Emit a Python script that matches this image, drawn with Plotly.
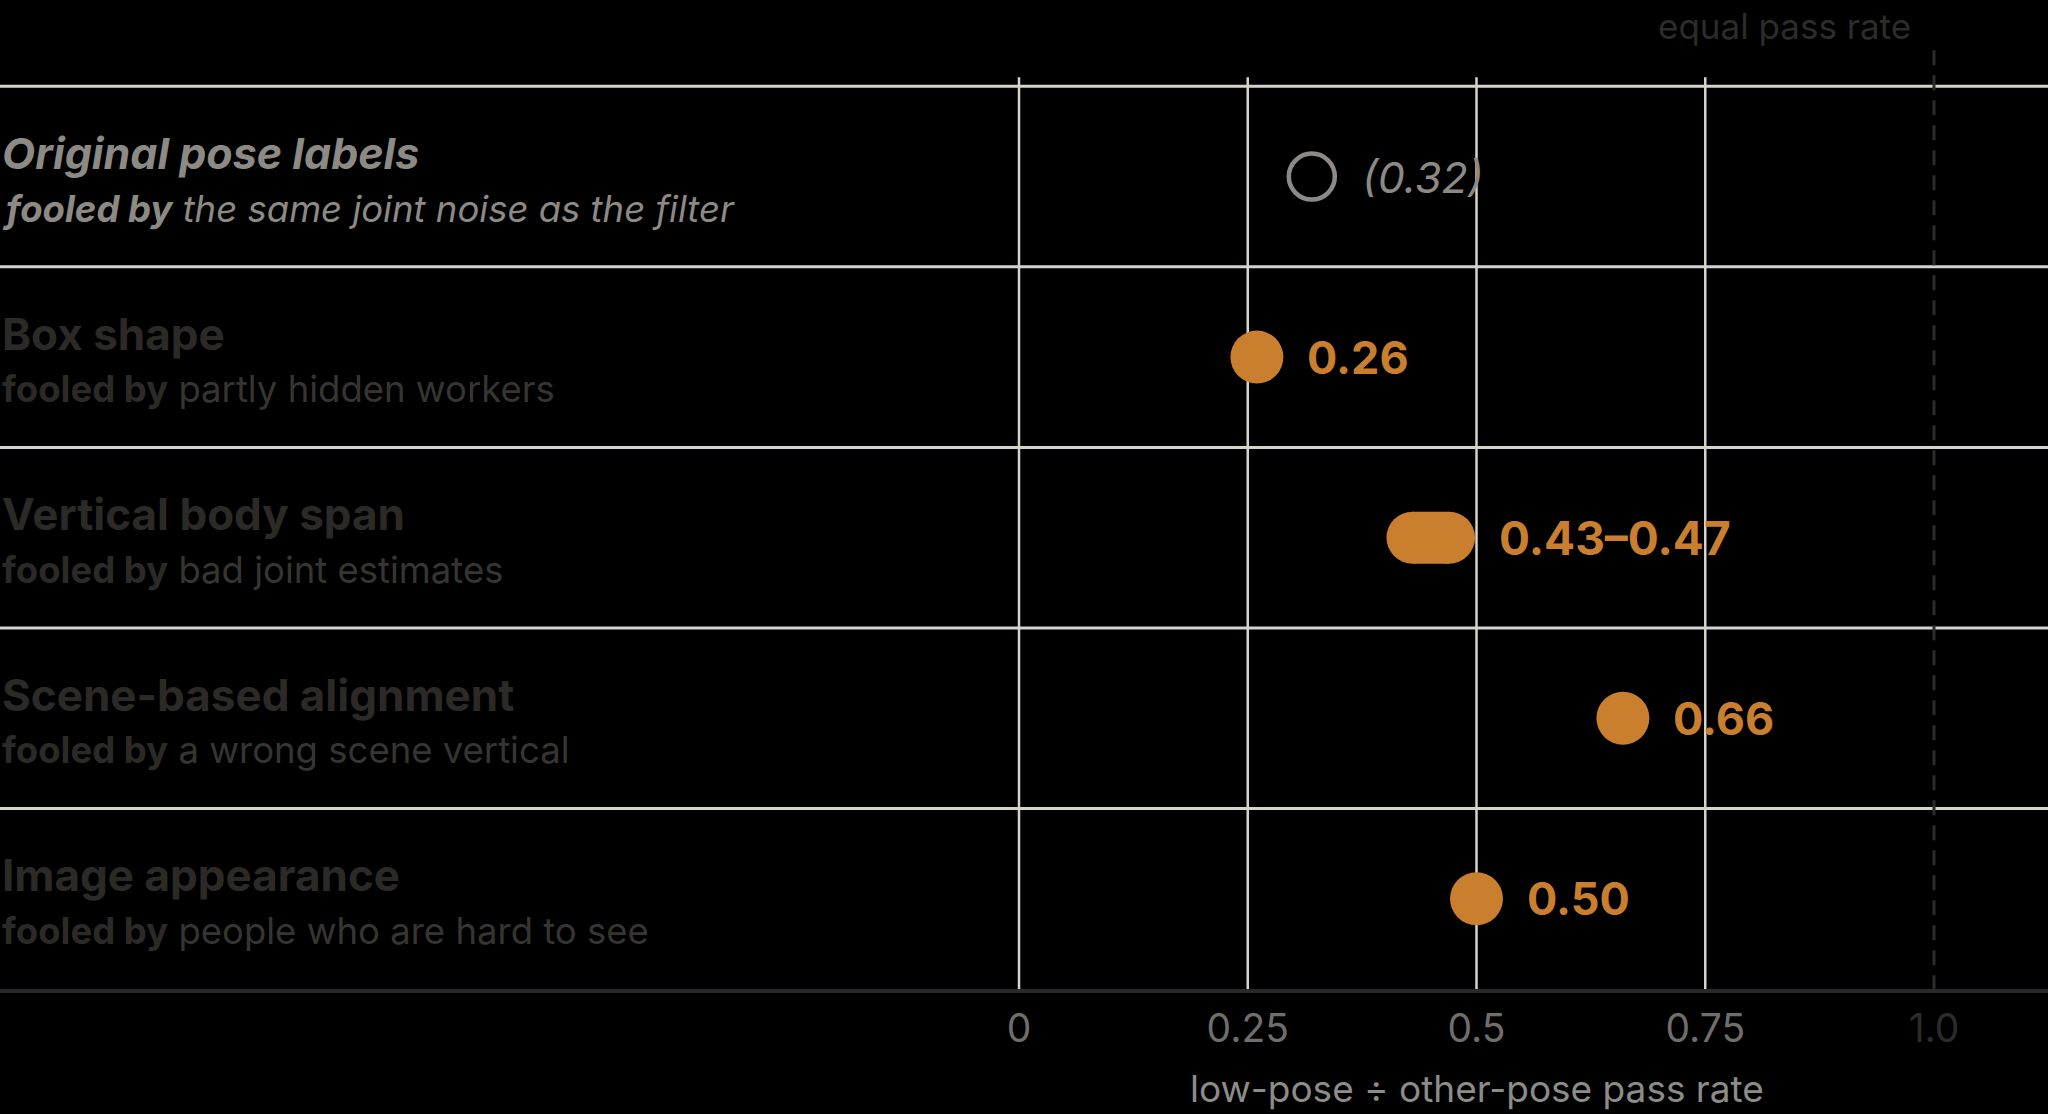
import plotly.graph_objects as go

# data
methods = ["Original pose labels", "Box shape", "Vertical body span",
           "Scene-based alignment", "Image appearance"]
fooled_by = ["the same joint noise as the filter", "partly hidden workers",
             "bad joint estimates", "a wrong scene vertical",
             "people who are hard to see"]
ratio_low = [0.32, 0.26, 0.43, 0.66, 0.50]
ratio_high = [0.32, 0.26, 0.47, 0.66, 0.50]
value_labels = ["(0.32)", "0.26", "0.43\u20130.47", "0.66", "0.50"]
is_baseline = [True, False, False, False, False]

tick_vals = [0, 0.25, 0.5, 0.75, 1.0]
tick_text = ["0", "0.25", "0.5", "0.75",
             "<span style='color:#2c2c2a'>1.0</span>"]

FONT = "Inter, Liberation Sans, sans-serif"
ORANGE = "#c97f2e"
GREY = "#8d8a85"
DARK = "#2b2a26"
DARK2 = "#363531"
RULE = "#d6d3cb"

rows = list(range(len(methods)))

fig = go.Figure()

# row separators
for i in rows:
    fig.add_shape(type="line", xref="paper", x0=0, x1=1, yref="y",
                  y0=i - 0.5, y1=i - 0.5, line=dict(color=RULE, width=3),
                  layer="below")

# vertical grid lines (not the 1.0 one, that is dashed)
for v in tick_vals[:-1]:
    fig.add_shape(type="line", x0=v, x1=v, y0=-0.55, y1=len(rows) - 0.5,
                  line=dict(color=RULE, width=2.5), layer="below")

fig.add_shape(type="line", x0=1.0, x1=1.0, y0=-0.70, y1=len(rows) - 0.5,
              line=dict(color="#2c2c2a", width=3, dash="15px,10px"),
              layer="below")

for i in rows:
    lo, hi = ratio_low[i], ratio_high[i]
    if is_baseline[i]:
        fig.add_trace(go.Scatter(
            x=[lo], y=[i], mode="markers",
            marker=dict(size=46, color="rgba(0,0,0,0)",
                        line=dict(color=GREY, width=4.5)),
            hoverinfo="skip", showlegend=False))
        lab_font = dict(family=FONT, size=43, color=GREY)
        txt = "<i>" + value_labels[i] + "</i>"
    elif lo != hi:
        fig.add_trace(go.Scatter(
            x=[lo, hi], y=[i, i], mode="lines+markers",
            line=dict(color=ORANGE, width=52),
            marker=dict(size=52, color=ORANGE, line=dict(width=0)),
            hoverinfo="skip", showlegend=False))
        lab_font = dict(family=FONT, size=46, color=ORANGE)
        txt = "<b>" + value_labels[i] + "</b>"
    else:
        fig.add_trace(go.Scatter(
            x=[lo], y=[i], mode="markers",
            marker=dict(size=53, color=ORANGE, line=dict(width=0)),
            hoverinfo="skip", showlegend=False))
        lab_font = dict(family=FONT, size=45, color=ORANGE)
        txt = "<b>" + value_labels[i] + "</b>"
    fig.add_annotation(x=hi, y=i, text=txt, showarrow=False, xanchor="left",
                       yanchor="middle", xshift=48, font=lab_font)

    # left labels
    if is_baseline[i]:
        title = "<b><i>" + methods[i] + "</i></b>"
        sub = "<i><b>fooled by</b> " + fooled_by[i] + "</i>"
        tcol, scol = GREY, GREY
        tsize = 43
    else:
        title = "<b>" + methods[i] + "</b>"
        sub = ("<b><span style='color:%s'>fooled by</span></b> " % DARK
               + fooled_by[i])
        tcol, scol = DARK, DARK2
        tsize = 44
    fig.add_annotation(xref="paper", x=0, y=i - 0.13, text=title,
                       showarrow=False, xanchor="left", yanchor="middle",
                       font=dict(family=FONT, size=tsize, color=tcol))
    fig.add_annotation(xref="paper", x=0, y=i + 0.178, text=sub,
                       showarrow=False, xanchor="left", yanchor="middle",
                       font=dict(family=FONT, size=36.5, color=scol))

fig.add_annotation(x=1.0, y=-0.835, text="equal pass rate", showarrow=False,
                   xanchor="right", yanchor="middle", xshift=-21,
                   font=dict(family=FONT, size=35, color="#2c2c2a"))

fig.add_annotation(x=0.5, xref="x", yref="paper", y=-0.101,
                   text="low-pose \u00f7 other-pose pass rate",
                   showarrow=False, xanchor="center", yanchor="middle",
                   font=dict(family=FONT, size=37, color="#8d8c88"))

fig.update_layout(
    width=2048, height=1114,
    margin=dict(l=0, r=0, t=0, b=125),
    paper_bgcolor="#000000", plot_bgcolor="#000000",
    font=dict(family=FONT),
    xaxis=dict(range=[-1.1137, 1.1246], showgrid=False, zeroline=False,
               tickvals=tick_vals, ticktext=tick_text, ticks="",
               tickfont=dict(family=FONT, size=39, color="#6f6e6a"),
               showline=True, linecolor="#2a2a27", linewidth=4,
               ticklabelstandoff=2),
    yaxis=dict(range=[4.5, -0.978], showgrid=False, zeroline=False,
               showticklabels=False, showline=False),
)

fig.write_html("out.html", config={"displayModeBar": False},
               post_script="document.body.style.margin='0';"
                           "document.body.style.background='#000';")
